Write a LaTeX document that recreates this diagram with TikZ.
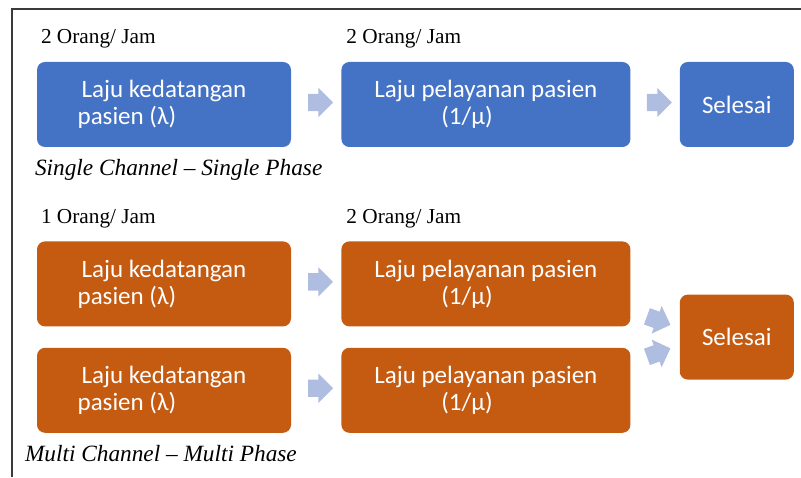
\documentclass[tikz,border=0pt]{standalone}
\usepackage{fontspec}
\setmainfont{Liberation Serif}
\newfontfamily\calibri{Carlito}
\usetikzlibrary{shapes.arrows, positioning, calc}
\definecolor{biru}{HTML}{4472C4}
\definecolor{oranye}{HTML}{C55A11}
\definecolor{panahc}{HTML}{AFBDE0}
\definecolor{garis}{HTML}{3A3A3A}
\tikzset{
  kotak/.style={rectangle, rounded corners=8pt, minimum height=85pt, inner sep=0pt,
                text=white, font=\calibri\fontsize{25pt}{27pt}\selectfont},
  datang/.style={kotak, minimum width=254pt, align=left},
  layan/.style={kotak, minimum width=289pt, align=left},
  akhir/.style={kotak, minimum width=114pt},
  laju/.style={inner sep=0pt, font=\fontsize{21.3pt}{24pt}\selectfont},
  judul/.style={inner sep=0pt, font=\fontsize{23.3pt}{27pt}\selectfont\itshape},
  panah/.style={single arrow, fill=panahc, draw=none, inner xsep=0pt, inner ysep=8.5pt,
                single arrow head extend=6pt, minimum height=25pt}
}

\begin{document}
\begin{tikzpicture}[node distance=94pt and 50pt]
  \useasboundingbox (0,0) rectangle (801pt,477pt);
  \draw [garis, line width=1.5pt] (801pt,468pt) -- (12pt,468pt) -- (12pt,0pt);
  % single channel - single phase
  \node (d1) [datang, fill=biru] at (164pt,372.5pt) {Laju kedatangan\\\hspace*{-4pt}pasien (λ)};
  \node (l1) [layan, fill=biru, right=of d1] {Laju pelayanan pasien\\\hspace*{67pt}(1/μ)};
  \node (s1) [akhir, fill=biru, right=49pt of l1] {Selesai};
  \node (j1) [laju, above right=18pt and 4pt of d1.north west, anchor=base west] {2 Orang/ Jam};
  \node (j2) [laju, above right=18pt and 5pt of l1.north west, anchor=base west] {2 Orang/ Jam};
  \node (t1) [judul, below right=28pt and -2pt of d1.south west, anchor=base west] {Single Channel -- Single Phase};
  \node (p1) [panah] at ($(d1.east)!0.5!(l1.west)+(0,2pt)$) {};
  \node (p2) [panah] at ($(l1.east)!0.5!(s1.west)+(0,2pt)$) {};
  % multi channel - multi phase
  \node (d2) [datang, fill=oranye, below=of d1] {Laju kedatangan\\\hspace*{-4pt}pasien (λ)};
  \node (d3) [datang, fill=oranye, below=21pt of d2] {Laju kedatangan\\\hspace*{-4pt}pasien (λ)};
  \node (l2) [layan, fill=oranye, right=of d2] {Laju pelayanan pasien\\\hspace*{67pt}(1/μ)};
  \node (l3) [layan, fill=oranye, right=of d3] {Laju pelayanan pasien\\\hspace*{67pt}(1/μ)};
  \coordinate (m) at ($(l2.east)!0.5!(l3.east)$);
  \node (s2) [akhir, fill=oranye, right=49pt of m] {Selesai};
  \node (j3) [laju, above right=18pt and 4pt of d2.north west, anchor=base west] {1 Orang/ Jam};
  \node (j4) [laju, above right=18pt and 5pt of l2.north west, anchor=base west] {2 Orang/ Jam};
  \node (t2) [judul, below left=28pt and 12pt of d3.south west, anchor=base west] {Multi Channel -- Multi Phase};
  \node (p3) [panah] at ($(d2.east)!0.5!(l2.west)+(0,2pt)$) {};
  \node (p4) [panah] at ($(d3.east)!0.5!(l3.west)+(0,2pt)$) {};
  \node (p5) [panah, rotate=-20] at ($(s2.west)+(-25pt,18pt)$) {};
  \node (p6) [panah, rotate=20] at ($(s2.west)+(-25pt,-17pt)$) {};
\end{tikzpicture}
\end{document}
